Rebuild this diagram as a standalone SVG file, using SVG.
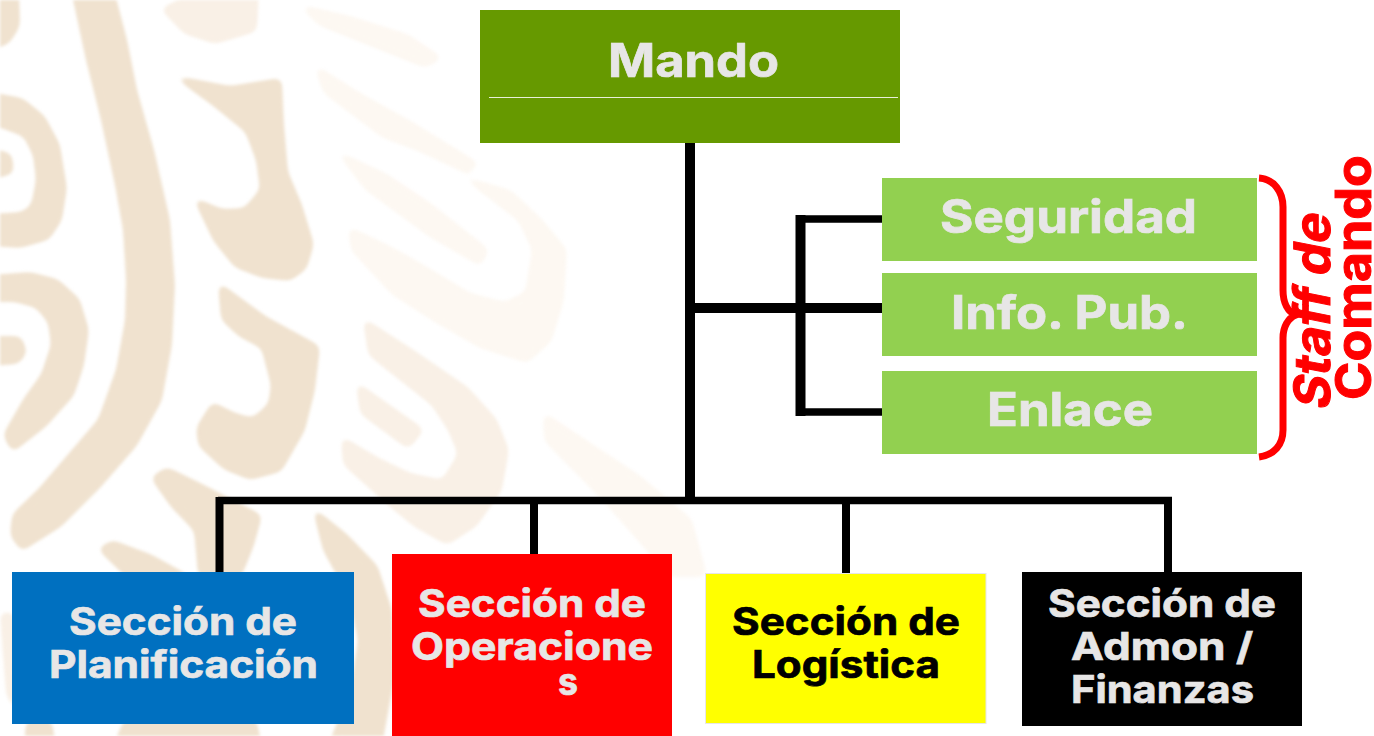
<svg xmlns="http://www.w3.org/2000/svg" width="1374" height="736" viewBox="0 0 1374 736">
<defs>
<style>
.t{font-family:"Inter","Liberation Sans",sans-serif;font-weight:700;fill:#E7E6E6;stroke:#E7E6E6;stroke-width:.7px}
.h{font-size:46px}
.s{font-size:38px}
.b{fill:#000;stroke:#000}
.c{fill:none;stroke:#000;stroke-linecap:butt}
.e1{fill:#f0e2cf;stroke:#f0e2cf;stroke-width:4;stroke-linejoin:round}
.e2{fill:#f9f0e6;stroke:#f9f0e6;stroke-width:4;stroke-linejoin:round}
.e3{fill:#fdf8f2;stroke:#fdf8f2;stroke-width:4;stroke-linejoin:round}
.r{font-family:"Inter","Liberation Sans",sans-serif;font-weight:700;fill:#FF0000;stroke:#FF0000;stroke-width:1px;font-size:50px}
</style>
<filter id="soft" x="0" y="0" width="100%" height="100%" filterUnits="userSpaceOnUse" primitiveUnits="userSpaceOnUse" color-interpolation-filters="sRGB">
<feGaussianBlur stdDeviation="4"/>
<feComponentTransfer><feFuncA type="linear" slope="5" intercept="-2"/></feComponentTransfer>
<feGaussianBlur stdDeviation="1.4"/>
</filter>
</defs>
<rect width="1374" height="736" fill="#fff"/>
<g id="background" filter="url(#soft)">
<polygon class="e1" points="73,-10 112,-10 125,40 135,90 152,150 168,220 173,285 170,345 160,400 135,445 100,485 60,525 22,549 12,535 14,515 40,490 70,455 100,420 118,370 127,320 128,280 125,230 117,185 103,120 88,60"/>
<polygon class="e1" points="-10,94 22,100 43,117 58,145 65,188 60,220 48,238 20,246 -10,244 -10,216 22,214 33,206 38,180 35,155 25,135 -10,122"/>
<polygon class="e1" points="-10,150 10,155 12,172 -10,178"/>
<polygon class="e1" points="-10,-10 17,-10 18,26 8,42 -10,49"/>
<polygon class="e1" points="-10,277 30,274 57,281 78,300 87,330 82,365 72,395 45,425 13,450 5,435 25,400 43,375 53,345 50,322 37,306 15,300 -10,300"/>
<polygon class="e1" points="-10,338 20,338 25,352 18,362 -10,364"/>
<polygon class="e1" points="178,78 230,88 280,80 282,125 286,172 300,205 312,244 305,268 290,279 262,276 236,266 215,240 196,200 222,211 245,210 262,190 258,160 247,131 215,105"/>
<polygon class="e2" points="163,9 205,-10 257,-10 255,30 215,42 185,32"/>
<polygon class="e1" points="220,285 265,318 318,347 313,390 303,430 280,470 250,478 225,468 200,445 198,428 213,404 235,415 253,420 270,405 273,385 263,347 240,335 223,319"/>
<polygon class="e3" points="303,7 350,18 407,36 440,58 425,66 380,48 320,24"/>
<polygon class="e3" points="317,68 360,95 407,121 477,164 467,172 420,150 383,136 325,92"/>
<polygon class="e3" points="340,154 385,175 430,205 487,250 480,264 430,235 367,189"/>
<polygon class="e3" points="467,179 510,192 540,220 565,250 562,300 550,340 527,361 480,346 435,320 393,293 353,250 350,229 390,248 420,265 470,295 505,304 527,293 534,250 520,220"/>
<polygon class="e2" points="365,321 410,350 467,389 495,420 507,450 500,490 475,525 447,543 415,525 393,507 345,464 343,439 375,458 410,475 443,482 460,454 450,430 433,404 400,378 370,354"/>
<polygon class="e2" points="358,385 422,430 408,447 362,413"/>
<polygon class="e1" points="315,511 345,535 376,567 390,610 392,680 380,746 330,746 352,690 360,640 350,595 325,550"/>
<polygon class="e1" points="153,478 167,469 200,485 260,516 252,545 240,575 200,575 196,530 172,505"/>
<polygon class="e1" points="100,549 113,542 150,556 190,578 130,578"/>
<polygon class="e3" points="545,415 575,435 640,478 690,520 705,575 670,575 640,540 600,495 546,440"/>
<polygon class="e2" points="2,614 12,614 14,708 8,694"/>
<polygon class="e1" points="28,722 50,722 54,746 26,746"/>
<polygon class="e1" points="125,722 255,722 260,746 115,746"/>
</g>
<g id="connectors">
<path class="c" stroke-width="10" d="M690 143V500"/>
<path class="c" stroke-width="10" d="M690 308H883"/>
<path class="c" stroke-width="10" d="M800.500 215V416"/>
<path class="c" stroke-width="7.500" d="M796 219H883M796 412H883"/>
<path class="c" stroke-width="7.500" d="M218 500.500H1172"/>
<path class="c" stroke-width="8" d="M219.500 497V573M534 500V555M846 500V574M1168 497V573"/>
</g>
<g id="mando">
<rect x="480" y="10" width="420" height="133" fill="#669900"/>
<rect x="489" y="97" width="409" height="1" fill="#E8F0D8"/>
<text class="t h" x="608" y="77" textLength="171" lengthAdjust="spacingAndGlyphs">Mando</text>
</g>
<g id="seguridad">
<rect x="882" y="178" width="375" height="83" fill="#92D050"/>
<text class="t h" x="940" y="233" textLength="257" lengthAdjust="spacingAndGlyphs">Seguridad</text>
</g>
<g id="info-pub">
<rect x="882" y="273" width="375" height="83" fill="#92D050"/>
<text class="t h" x="951" y="329" textLength="237" lengthAdjust="spacingAndGlyphs">Info. Pub.</text>
</g>
<g id="enlace">
<rect x="882" y="371" width="375" height="83" fill="#92D050"/>
<text class="t h" x="987" y="426" textLength="166" lengthAdjust="spacingAndGlyphs">Enlace</text>
</g>
<g id="staff-brace">
<path fill="none" stroke="#FF0000" stroke-width="7" d="M1259 178C1274 179 1283 192 1283 207V290C1283 303 1288 312 1296 315C1288 318 1283 327 1283 338V430C1283 445 1274 455 1259 457"/>
</g>
<g id="staff-label">
<text class="r" transform="translate(1330 411) rotate(-90) skewX(-11)" textLength="196" lengthAdjust="spacingAndGlyphs">Staff de</text>
<text class="r" transform="translate(1371 400) rotate(-90)" textLength="245" lengthAdjust="spacingAndGlyphs">Comando</text>
</g>
<g id="planificacion">
<rect x="12" y="572" width="342" height="152" fill="#0070C0"/>
<text class="t s" x="69" y="635" textLength="228" lengthAdjust="spacingAndGlyphs">Sección de</text>
<text class="t s" x="49" y="678" textLength="269" lengthAdjust="spacingAndGlyphs">Planificación</text>
</g>
<g id="operaciones">
<rect x="392" y="554" width="280" height="182" fill="#FF0000"/>
<text class="t s" x="418" y="617" textLength="228" lengthAdjust="spacingAndGlyphs">Sección de</text>
<text class="t s" x="411" y="660" textLength="242" lengthAdjust="spacingAndGlyphs">Operacione</text>
<text class="t s" x="558" y="695" textLength="20" lengthAdjust="spacingAndGlyphs">s</text>
</g>
<g id="logistica">
<rect x="705.500" y="573.500" width="280.500" height="150" fill="#FFFF00" stroke="#E7E6E6"/>
<text class="t s b" x="732" y="635" textLength="228" lengthAdjust="spacingAndGlyphs">Sección de</text>
<text class="t s b" x="752" y="678" textLength="188" lengthAdjust="spacingAndGlyphs">Logística</text>
</g>
<g id="admon">
<rect x="1022" y="572" width="280" height="154" fill="#000"/>
<text class="t s" x="1048" y="617" textLength="228" lengthAdjust="spacingAndGlyphs">Sección de</text>
<text class="t s" x="1071" y="660" textLength="182" lengthAdjust="spacingAndGlyphs">Admon /</text>
<text class="t s" x="1071" y="703" textLength="183" lengthAdjust="spacingAndGlyphs">Finanzas</text>
</g>
</svg>
